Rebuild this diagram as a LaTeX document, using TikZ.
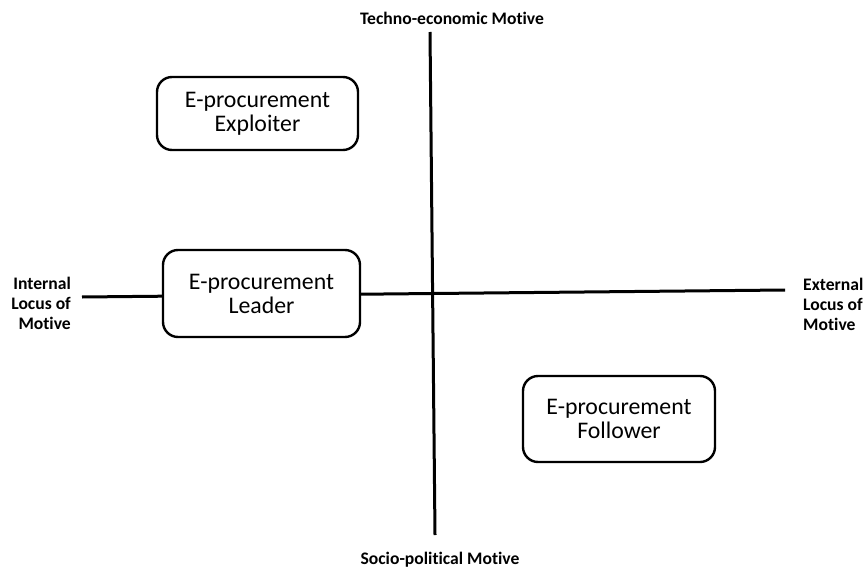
\documentclass[tikz,border=0pt]{standalone}
\usepackage{fontspec}
\setmainfont[Ligatures=NoCommon]{Carlito}
\begin{document}
\begin{tikzpicture}[x=1pt,y=-1pt,
  axis/.style={line width=3pt},
  quad/.style={draw, line width=2.4pt, rounded corners=15pt, fill=white, align=center,
    inner sep=0pt, font=\fontsize{23.8}{24}\selectfont},
  axislabel/.style={font=\bfseries\fontsize{17.6}{20}\selectfont, inner sep=0pt}]
\useasboundingbox (0,0) rectangle (866,572);
\coordinate (lw) at (82,297);
\coordinate (le) at (785,290);
\coordinate (vt) at (430,32);
\coordinate (vb) at (435,535);
\draw[axis] (lw) -- (le);
\draw[axis] (vt) -- (vb);
\node[quad, minimum width=201pt, minimum height=73pt] (exploiter) at (257.5,113.5) {E-procurement\\Exploiter};
\node[quad, minimum width=197pt, minimum height=87pt] (leader) at (261.5,293.5) {E-procurement\\Leader};
\node[quad, minimum width=192pt, minimum height=86pt] (follower) at (619,419) {E-procurement\\Follower};
\node[axislabel] (techno) at (452,18) {Techno-economic Motive};
\node[axislabel] (socio) at (440,560) {Socio-political Motive};
\node[axislabel, anchor=east, align=right] (internal) at (71,303) {Internal\\Locus of\\Motive};
\node[axislabel, anchor=west, align=left] (external) at (803,304) {External\\Locus of\\Motive};
\end{tikzpicture}
\end{document}
